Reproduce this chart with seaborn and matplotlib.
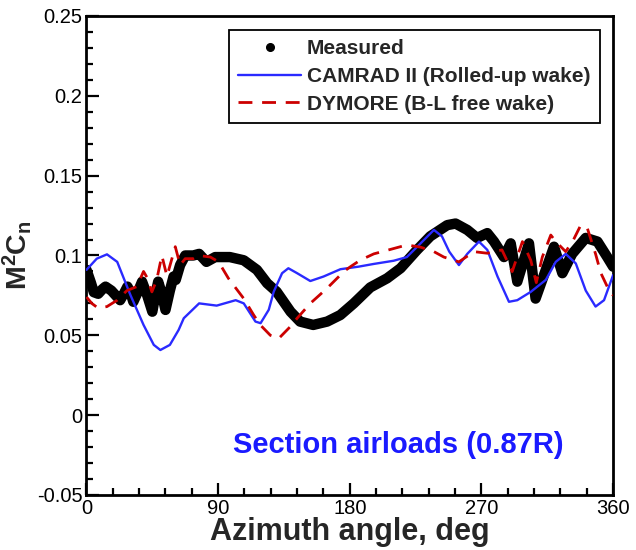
import numpy as np
import pandas as pd
import matplotlib
matplotlib.use("Agg")
import matplotlib.pyplot as plt
from matplotlib.lines import Line2D
from matplotlib.ticker import MultipleLocator, FuncFormatter
import seaborn as sns

# ---------------- data ----------------
meas_az = [0, 3, 5, 8, 11, 13, 17, 21, 23, 25.5, 28, 30, 32, 35, 38, 41.5, 45, 47, 49,
           51.5, 54, 57, 59.5, 61, 64, 67.5, 73, 77, 82, 88, 98, 107.5, 116.5, 123.5,
           130, 139.5, 146, 155, 164.5, 173.5, 182.7, 194, 205.5, 214.7, 226, 235,
           246.6, 252.3, 260.3, 267, 274, 278.6, 285.4, 290, 294.5, 302.5, 307, 314,
           319.6, 325.3, 332, 341.3, 349.3, 356, 360]
meas_val = [0.091, 0.083, 0.077, 0.076, 0.079, 0.0805, 0.078, 0.074, 0.072, 0.076, 0.0805,
            0.077, 0.071, 0.077, 0.0836, 0.075, 0.0648, 0.075, 0.0836,
            0.076, 0.0659, 0.078, 0.0868, 0.0847, 0.094, 0.100, 0.100, 0.101, 0.096, 0.099,
            0.099, 0.097, 0.091, 0.0826,
            0.0773, 0.0648, 0.0586, 0.0565, 0.0586, 0.0627, 0.070, 0.080, 0.0857, 0.092,
            0.1035, 0.112,
            0.119, 0.120, 0.116, 0.111, 0.114, 0.1087, 0.099, 0.1076, 0.0836, 0.1076, 0.073,
            0.091,
            0.1055, 0.0889, 0.101, 0.111, 0.1087, 0.099, 0.093]

camrad_az = [0, 7, 14, 21, 30, 39, 46, 50.5, 57, 63, 66.5, 77, 89, 102, 107.5, 115.5,
             119, 124.6, 128, 133.7, 138, 144, 153, 162, 173.6, 186, 196.4, 210, 219,
             228.4, 237.5, 243, 248, 254.6, 260.3, 268.3, 274, 281, 288.8, 294.5, 303.7,
             314, 320.8, 327.6, 334.5, 341.3, 348, 353.8, 360]
camrad_val = [0.091, 0.098, 0.1007, 0.096, 0.0753, 0.0565, 0.044, 0.0408, 0.044, 0.0534,
              0.0607, 0.070, 0.0686, 0.072, 0.070, 0.0586,
              0.0576, 0.066, 0.0773, 0.0889, 0.092, 0.0889, 0.084, 0.0868, 0.0914, 0.093,
              0.0947, 0.0967, 0.099,
              0.1076, 0.116, 0.112, 0.1024, 0.094, 0.101, 0.1087, 0.1035, 0.0868, 0.071,
              0.072, 0.0772,
              0.0847, 0.096, 0.101, 0.095, 0.078, 0.068, 0.072, 0.0877]

dymore_az = [0, 3.6, 8, 14, 21, 27.6, 34.4, 39, 41.5, 44.7, 48, 51.5, 55, 60.7, 64, 67.5,
             73, 76.7, 84.7, 90.3, 97, 107.5, 114.3, 118.8, 125.7, 131.4, 139.4, 144, 153,
             164.5, 176, 180.5, 187, 196.4, 207.8, 219, 228.4, 237.5, 244.3, 254.6, 264.9,
             274, 284, 291, 298, 303.7, 307.5, 311.6, 317.4, 320.8, 327.6, 333, 337.9,
             342.4, 348, 351.6, 357.3, 360]
dymore_val = [0.074, 0.070, 0.067, 0.068, 0.072, 0.078, 0.0805, 0.090, 0.086, 0.0772,
              0.0847, 0.100, 0.087, 0.1055, 0.094, 0.098,
              0.098, 0.100, 0.099, 0.096, 0.0857, 0.073, 0.0627, 0.0565, 0.050, 0.048,
              0.0555, 0.0607, 0.070,
              0.0795, 0.090, 0.093, 0.097, 0.101, 0.1038, 0.1066, 0.1052, 0.1024, 0.099,
              0.096, 0.1024,
              0.1014, 0.1035, 0.0899, 0.1087, 0.097, 0.083, 0.099, 0.1128, 0.1087, 0.1024,
              0.110, 0.119,
              0.117, 0.101, 0.089, 0.078, 0.075]

series_labels = ["Measured", "CAMRAD II (Rolled-up wake)", "DYMORE (B-L free wake)"]
x_ticks = [0, 90, 180, 270, 360]
y_ticks = [-0.05, 0, 0.05, 0.1, 0.15, 0.2, 0.25]
x_label = "Azimuth angle, deg"
y_label = r"$\mathbf{M^2C_n}$"
annotation = "Section airloads (0.87R)"

# ---------------- style ----------------
sns.set_style("ticks")
plt.rcParams["font.family"] = ["Liberation Sans", "DejaVu Sans"]
plt.rcParams["mathtext.fontset"] = "custom"
plt.rcParams["mathtext.rm"] = "Liberation Sans"
plt.rcParams["mathtext.bf"] = "Liberation Sans:bold"
plt.rcParams["axes.unicode_minus"] = False

fig = plt.figure(figsize=(6.36, 5.5), dpi=100)
ax = fig.add_axes([0.136, 0.100, 0.828, 0.871])

df_m = pd.DataFrame({"az": meas_az, "val": meas_val})
df_c = pd.DataFrame({"az": camrad_az, "val": camrad_val})
df_d = pd.DataFrame({"az": dymore_az, "val": dymore_val})

BLUE = "#2a2aff"
RED = "#cc0000"

sns.lineplot(data=df_m, x="az", y="val", ax=ax, color="black", lw=7.5, sort=False,
             estimator=None, solid_capstyle="round", solid_joinstyle="round", zorder=2)
sns.lineplot(data=df_c, x="az", y="val", ax=ax, color=BLUE, lw=1.7, sort=False,
             estimator=None, zorder=3)
sns.lineplot(data=df_d, x="az", y="val", ax=ax, color=RED, lw=2.0, sort=False,
             estimator=None, zorder=4, dashes=False)
ax.lines[-1].set_dashes((5, 3.5))

ax.set_xlim(0, 360)
ax.set_ylim(-0.05, 0.25)
ax.set_xticks(x_ticks)
ax.set_yticks(y_ticks)
ax.xaxis.set_minor_locator(MultipleLocator(18))
ax.yaxis.set_minor_locator(MultipleLocator(0.01))
ax.yaxis.set_major_formatter(FuncFormatter(lambda v, p: "{:g}".format(round(v, 3))))
ax.xaxis.set_major_formatter(FuncFormatter(lambda v, p: "{:g}".format(v)))
ax.tick_params(which="both", direction="in", top=False, right=False, width=1.6,
               colors="black", labelsize=14.5)
ax.tick_params(which="major", length=9, pad=3)
ax.tick_params(which="minor", length=5)
for s in ax.spines.values():
    s.set_linewidth(2.0)
    s.set_color("black")

ax.set_xlabel(x_label, fontsize=22, fontweight="bold", labelpad=-1)
ax.set_ylabel(y_label, fontsize=20.5, labelpad=2)

ax.text(213, -0.0187, annotation, color="#1a1aff", fontsize=21, fontweight="bold",
        ha="center", va="center")

handles = [
    Line2D([], [], color="black", marker="o", ls="none", markersize=5.5),
    Line2D([], [], color=BLUE, lw=1.7),
    Line2D([], [], color=RED, lw=2.0, dashes=(5, 3.5)),
]
leg = ax.legend(handles, series_labels, loc="upper right", bbox_to_anchor=(0.975, 0.971),
                prop={"weight": "bold", "size": 15}, frameon=True, fancybox=False,
                handlelength=3.0, handletextpad=0.3, labelspacing=0.42,
                borderpad=0.45, borderaxespad=0)
leg.get_frame().set_edgecolor("black")
leg.get_frame().set_linewidth(1.3)
leg.get_frame().set_alpha(1)

fig.savefig("out.png", dpi=100)
